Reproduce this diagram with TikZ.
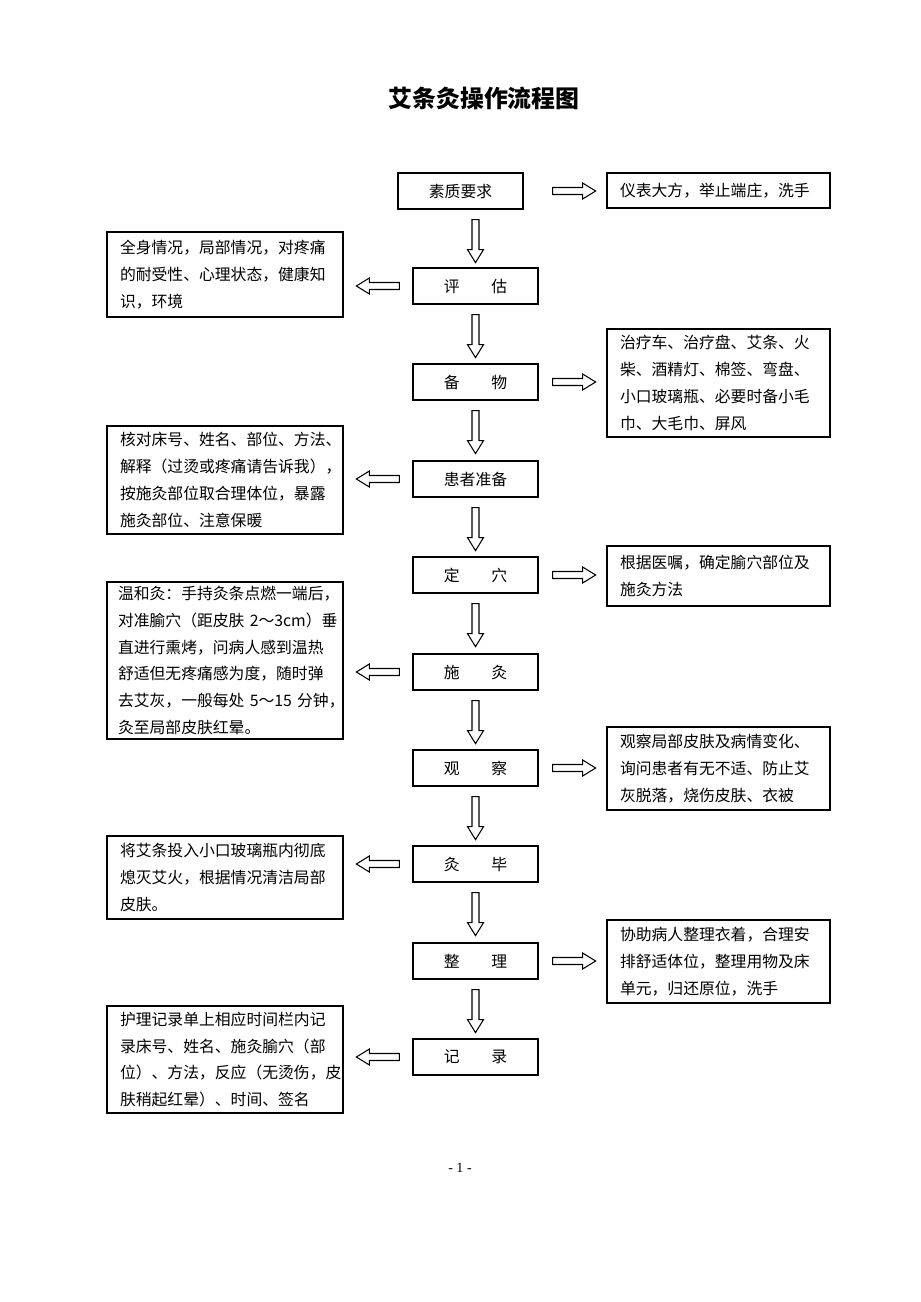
\documentclass[tikz,border=0pt]{standalone}
\usepackage{fontspec}
\setmainfont{Noto Sans CJK SC}
\newfontfamily\pgnum{Liberation Serif}
\usetikzlibrary{calc}
\begin{document}
\begin{tikzpicture}[x=0.02cm,y=-0.02cm,
  mid/.style={draw,line width=0.7pt,minimum width=125*0.02cm,minimum height=36*0.02cm,inner sep=0pt,font=\fontsize{9}{15.3}\selectfont},
  side/.style={draw,line width=0.7pt,inner sep=0pt,align=left,font=\fontsize{9}{15.3}\selectfont},
  L/.style={side,minimum width=236*0.02cm,text width=210*0.02cm},
  R/.style={side,minimum width=223*0.02cm,text width=197*0.02cm},
  harrow/.pic={\draw[line width=0.6pt] (0,-3.5)--(30,-3.5)--(30,-8)--(43,0)--(30,8)--(30,3.5)--(0,3.5)--cycle;}]
\useasboundingbox (0,0) rectangle (920,1302);
\node[font=\bfseries\fontsize{13.6}{16}\selectfont] (t) at (484,98) {艾条灸操作流程图};
\node[mid] (m1) at (460.5,191) {素质要求};
\node[mid] (m2) at (475.5,286) {评\hspace{2em}估};
\node[mid] (m3) at (475.5,382) {备\hspace{2em}物};
\node[mid] (m4) at (475.5,479) {患者准备};
\node[mid] (m5) at (475.5,575) {定\hspace{2em}穴};
\node[mid] (m6) at (475.5,672) {施\hspace{2em}灸};
\node[mid] (m7) at (475.5,768) {观\hspace{2em}察};
\node[mid] (m8) at (475.5,864) {灸\hspace{2em}毕};
\node[mid] (m9) at (475.5,961) {整\hspace{2em}理};
\node[mid] (m10) at (475.5,1057) {记\hspace{2em}录};
\node[R,minimum height=35*0.02cm] (r1) at (718.5,190.5) {仪表大方，举止端庄，洗手};
\node[R,minimum height=108*0.02cm] (r2) at (718.5,383) {治疗车、治疗盘、艾条、火\\柴、酒精灯、棉签、弯盘、\\小口玻璃瓶、必要时备小毛\\巾、大毛巾、屏风};
\node[R,minimum height=60*0.02cm] (r3) at (718.5,576) {根据医嘱，确定腧穴部位及\\施灸方法};
\node[R,minimum height=83*0.02cm] (r4) at (718.5,768.5) {观察局部皮肤及病情变化、\\询问患者有无不适、防止艾\\灰脱落，烧伤皮肤、衣被};
\node[R,minimum height=83*0.02cm] (r5) at (718.5,961.5) {协助病人整理衣着，合理安\\排舒适体位，整理用物及床\\单元，归还原位，洗手};
\node[L,minimum height=85*0.02cm] (l1) at (225,274.5) {全身情况，局部情况，对疼痛\\的耐受性、心理状态，健康知\\识，环境};
\node[L,minimum height=108*0.02cm] (l2) at (225,480) {核对床号、姓名、部位、方法、\\解释（过烫或疼痛请告诉我），\\按施灸部位取合理体位，暴露\\施灸部位、注意保暖};
\node[L,minimum height=157*0.02cm,text width=214*0.02cm] (l3) at (225,660.5) {\mbox{温和灸：手持灸条点燃一端后，}\\\mbox{对准腧穴（距皮肤~2～3cm）垂}\\\mbox{直进行熏烤，问病人感到温热}\\\mbox{舒适但无疼痛感为度，随时弹}\\\mbox{去艾灰，一般每处~5～15~分钟，}\\\mbox{灸至局部皮肤红晕。}\\[6pt]};
\node[L,minimum height=83*0.02cm] (l4) at (225,877.5) {将艾条投入小口玻璃瓶内彻底\\熄灭艾火，根据情况清洁局部\\皮肤。};
\node[L,minimum height=107*0.02cm] (l5) at (225,1059.5) {护理记录单上相应时间栏内记\\录床号、姓名、施灸腧穴（部\\位）、方法，反应（无烫伤，皮\\肤稍起红晕）、时间、签名};
\foreach \a/\b in {m1/m2,m2/m3,m3/m4,m4/m5,m5/m6,m6/m7,m7/m8,m8/m9,m9/m10}
  \pic[rotate=-90] at ($(\b.north |- \a.south)+(0,10)$) {harrow};
\foreach \a/\b in {m1/r1,m3/r2,m5/r3,m7/r4,m9/r5}
  \pic at ($(m2.east |- \a.east)+(14,0)$) {harrow};
\foreach \a/\b in {m2/l1,m4/l2,m6/l3,m8/l4,m10/l5}
  \pic[rotate=180] at ($(\a.west)+(-13,0)$) {harrow};
\node[font=\pgnum\fontsize{8}{10}\selectfont] (pg) at (460,1168) {- 1 -};
\end{tikzpicture}
\end{document}
